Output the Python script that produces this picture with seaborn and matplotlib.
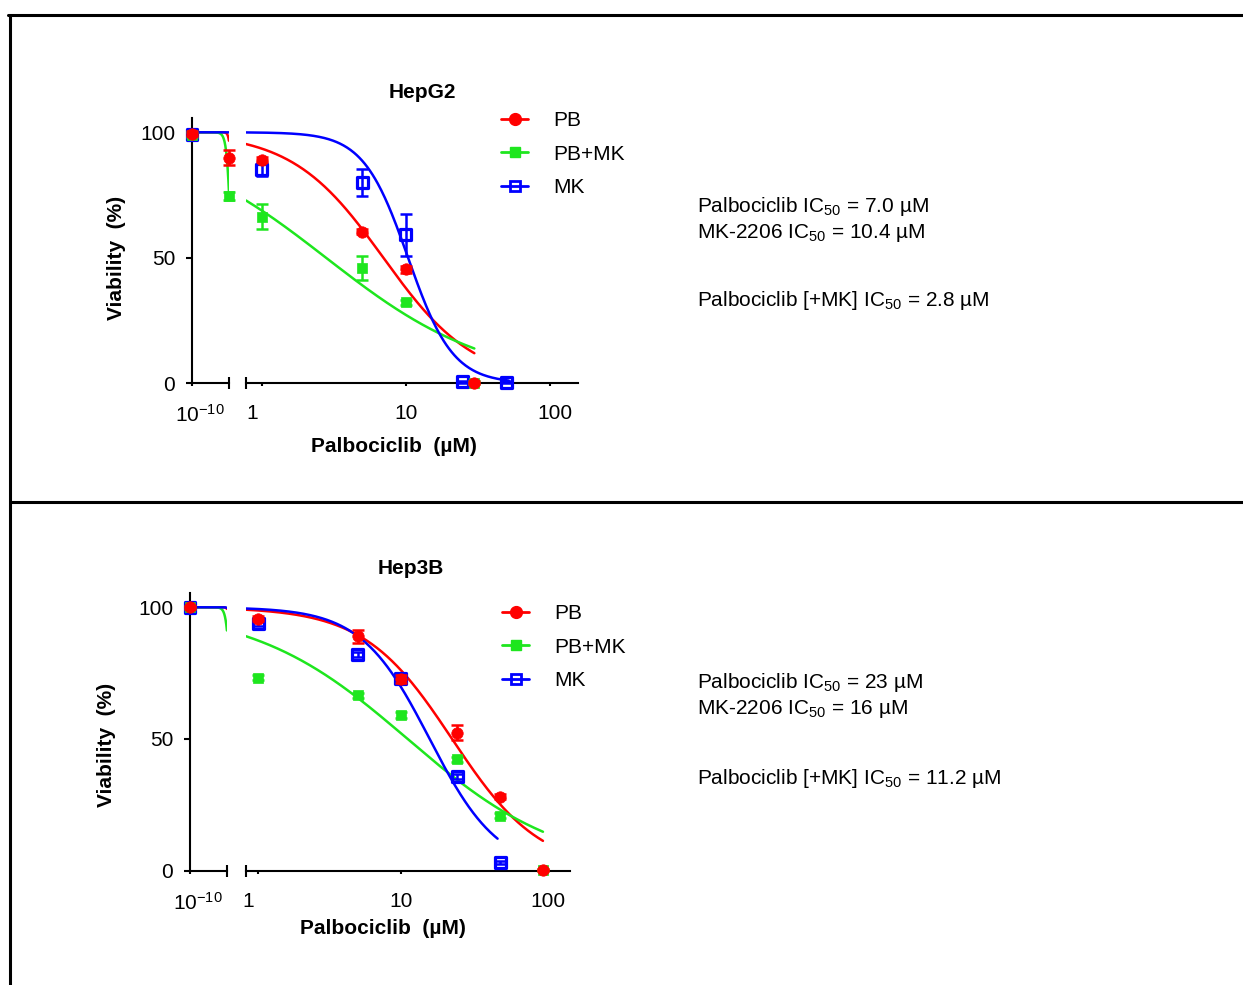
import numpy as np
import matplotlib
matplotlib.use('Agg')
import matplotlib.pyplot as plt
from matplotlib.lines import Line2D
from matplotlib.ticker import FixedLocator, FixedFormatter, NullLocator
import matplotlib.transforms as mtrans
import seaborn as sns

sns.set_style('ticks')
plt.rcParams['font.family'] = ['Liberation Sans', 'DejaVu Sans']
plt.rcParams['mathtext.fontset'] = 'custom'
plt.rcParams['mathtext.rm'] = 'Liberation Sans'
plt.rcParams['mathtext.it'] = 'Liberation Sans:italic'
plt.rcParams['mathtext.bf'] = 'Liberation Sans:bold'
for k in ['text.color', 'axes.labelcolor', 'xtick.color', 'ytick.color', 'axes.edgecolor']:
    plt.rcParams[k] = 'black'

# ---------------- data ----------------
series_names = ['PB', 'PB+MK', 'MK']
series_colors = ['#FF0000', '#1EE61E', '#0000FF']

# HepG2
hepg2_pb_dose = [1e-10, 0.5, 1, 5, 10, 30]
hepg2_pb_val = [99.5, 89.8, 89.0, 60.4, 45.4, 0.3]
hepg2_pb_err = [1.0, 3.0, 1.0, 1.0, 1.5, 0.5]
hepg2_pbmk_dose = [1e-10, 0.5, 1, 5, 10, 30]
hepg2_pbmk_val = [99.0, 74.6, 66.4, 45.8, 32.3, 0.3]
hepg2_pbmk_err = [1.0, 1.5, 5.0, 4.8, 1.0, 0.5]
hepg2_mk_dose = [1e-10, 1, 5, 10, 25, 50]
hepg2_mk_val = [99.0, 85.2, 79.9, 59.1, 0.6, 0.5]
hepg2_mk_err = [1.5, 2.5, 5.4, 8.5, 0.5, 0.5]
hepg2_ic50 = [7.0, 2.8, 10.4]
hepg2_hill = [1.37, 0.77, 2.8]
hepg2_curve_end = [30, 30, 52]

# Hep3B
hep3b_pb_dose = [1e-10, 1, 5, 10, 25, 50, 100]
hep3b_pb_val = [100.0, 95.6, 89.0, 72.7, 52.4, 28.1, 0.2]
hep3b_pb_err = [0.5, 1.0, 2.5, 1.5, 2.8, 1.0, 0.5]
hep3b_pbmk_dose = [1e-10, 1, 5, 10, 25, 50, 100]
hep3b_pbmk_val = [100.0, 73.3, 66.6, 59.1, 42.3, 20.9, 0.2]
hep3b_pbmk_err = [0.5, 0.8, 1.0, 1.0, 1.0, 1.0, 0.5]
hep3b_mk_dose = [1e-10, 1, 5, 10, 25, 50]
hep3b_mk_val = [100.0, 93.7, 82.0, 73.0, 35.7, 3.0]
hep3b_mk_err = [0.5, 1.0, 1.0, 1.5, 1.0, 0.5]
hep3b_ic50 = [23.0, 11.2, 16.0]
hep3b_hill = [1.4, 0.8, 1.8]
hep3b_curve_end = [100, 100, 48]

hepg2_text = ['Palbociclib IC$_{50}$ = 7.0 µM', 'MK-2206 IC$_{50}$ = 10.4 µM',
              'Palbociclib [+MK] IC$_{50}$ = 2.8 µM']
hep3b_text = ['Palbociclib IC$_{50}$ = 23 µM', 'MK-2206 IC$_{50}$ = 16 µM',
              'Palbociclib [+MK] IC$_{50}$ = 11.2 µM']

y_ticks = [0, 50, 100]
x_ticks_right = [1, 10, 100]
x_labels_right = ['1', '10', '100']
x_tick_left = [1e-10]
x_label_left = ['10$^{-10}$']

# ---------------- figure ----------------
W, H = 1243, 985
fig = plt.figure(figsize=(W / 100, H / 100), dpi=100)
FS = 15


def add_px_axes(x0, x1, ytop, ybot):
    return fig.add_axes([x0 / W, 1 - ybot / H, (x1 - x0) / W, (ybot - ytop) / H])


def hill(x, ic50, h):
    return 100.0 / (1.0 + (x / ic50) ** h)


def offset_label(tick, dx_px):
    tr = mtrans.ScaledTranslation(dx_px / 100.0, 0, fig.dpi_scale_trans)
    tick.label1.set_transform(tick.label1.get_transform() + tr)


def panel(geom, data, ic50s, hills, ends, title, title_pos, xlab_pos, ylab_pos,
          legend_pos, texts, text_x, text_ys):
    ytop, ybot, xl0, xl1, xr0, xr1, rlo, rhi, ymax = geom
    axL = add_px_axes(xl0, xl1, ytop, ybot)
    axR = add_px_axes(xr0, xr1, ytop, ybot)
    lmin, lmax = 1e-10, 10 ** -0.2
    for ax in (axL, axR):
        ax.set_xscale('log')
        ax.set_ylim(0, ymax)
        ax.set_facecolor('none')
        for s in ax.spines.values():
            s.set_linewidth(1.5)
            s.set_color('black')
        ax.spines['top'].set_visible(False)
        ax.spines['right'].set_visible(False)
    axL.set_xlim(lmin, lmax)
    axR.set_xlim(10 ** rlo, 10 ** rhi)
    axR.spines['left'].set_visible(False)
    axR.yaxis.set_major_locator(NullLocator())
    axR.yaxis.set_minor_locator(NullLocator())

    axL.yaxis.set_major_locator(FixedLocator(y_ticks))
    axL.yaxis.set_minor_locator(NullLocator())
    axL.tick_params(axis='y', direction='out', length=4, width=1.5, labelsize=FS, pad=8)

    axL.xaxis.set_major_locator(FixedLocator(x_tick_left))
    axL.xaxis.set_major_formatter(FixedFormatter(x_label_left))
    axL.xaxis.set_minor_locator(FixedLocator([lmax]))
    axR.xaxis.set_major_locator(FixedLocator(x_ticks_right))
    axR.xaxis.set_major_formatter(FixedFormatter(x_labels_right))
    axR.xaxis.set_minor_locator(FixedLocator([10 ** rlo]))
    for ax in (axL, axR):
        ax.tick_params(axis='x', which='major', direction='out', length=2.5, width=1.5,
                       labelsize=FS, pad=12.5)
        ax.tick_params(axis='x', which='minor', direction='inout', length=8, width=1.5)

    # curves
    for i, (name, col) in enumerate(zip(series_names, series_colors)):
        xl = np.logspace(-10, -0.22, 400)
        sns.lineplot(x=xl, y=hill(xl, ic50s[i], hills[i]), ax=axL, color=col, lw=1.8,
                     estimator=None, sort=False, legend=False)
        xr = np.logspace(rlo, np.log10(ends[i]), 300)
        sns.lineplot(x=xr, y=hill(xr, ic50s[i], hills[i]), ax=axR, color=col, lw=1.8,
                     estimator=None, sort=False, legend=False)

    # points: blue first, then green, then red on top
    order = [2, 1, 0]
    markers = ['o', 's', 's']
    sizes = [68, 58, 62]
    for z, i in enumerate(order):
        dose, val, err = data[i]
        dose = np.asarray(dose, float)
        val = np.asarray(val, float)
        err = np.asarray(err, float)
        col = series_colors[i]
        for ax, m in ((axL, dose < 0.7), (axR, dose >= 0.7)):
            if not m.any():
                continue
            eb = ax.errorbar(dose[m], val[m], yerr=err[m], fmt='none', ecolor=col,
                             elinewidth=1.8, capsize=4, capthick=1.8, zorder=3 + z)
            for a in eb.lines[1] + eb.lines[2]:
                a.set_clip_on(False)
            if i == 2:
                sns.scatterplot(x=dose[m], y=val[m], ax=ax, marker='s', s=sizes[i],
                                color=col, facecolor='none', edgecolor=col, linewidth=2.3,
                                clip_on=False, zorder=3.5 + z, legend=False)
            else:
                sns.scatterplot(x=dose[m], y=val[m], ax=ax, marker=markers[i], s=sizes[i],
                                color=col, edgecolor=col, linewidth=0.5,
                                clip_on=False, zorder=3.5 + z, legend=False)

    # legend
    handles = []
    for i, col in enumerate(series_colors):
        if i == 2:
            h = Line2D([0], [0], color=col, lw=2, marker='s', markersize=7.5,
                       markerfacecolor='none', markeredgecolor=col, markeredgewidth=2)
        else:
            h = Line2D([0], [0], color=col, lw=2, marker=markers[i],
                       markersize=8.5 if i == 0 else 7.5, markerfacecolor=col,
                       markeredgecolor=col)
        handles.append(h)
    axR.legend(handles, series_names, loc='upper left',
               bbox_to_anchor=(legend_pos[0] / W, 1 - legend_pos[1] / H),
               bbox_transform=fig.transFigure, frameon=False, fontsize=FS,
               handlelength=1.3, handletextpad=1.2, labelspacing=0.7,
               borderpad=0, borderaxespad=0, numpoints=1)

    fig.text(title_pos[0] / W, 1 - title_pos[1] / H, title, ha='center', va='center',
             fontsize=FS, fontweight='bold')
    fig.text(xlab_pos[0] / W, 1 - xlab_pos[1] / H, 'Palbociclib  (µM)', ha='center',
             va='center', fontsize=FS, fontweight='bold')
    fig.text(ylab_pos[0] / W, 1 - ylab_pos[1] / H, 'Viability  (%)', ha='center',
             va='center', rotation=90, fontsize=FS, fontweight='bold')
    for t, yy in zip(texts, text_ys):
        fig.text(text_x / W, 1 - (yy + 7.5) / H, t, ha='left', va='baseline', fontsize=FS)
    return axL, axR


top = panel((118.2, 383.3, 192, 229, 246, 578, -0.109, 2.197, 105.6),
            [(hepg2_pb_dose, hepg2_pb_val, hepg2_pb_err),
             (hepg2_pbmk_dose, hepg2_pbmk_val, hepg2_pbmk_err),
             (hepg2_mk_dose, hepg2_mk_val, hepg2_mk_err)],
            hepg2_ic50, hepg2_hill, hepg2_curve_end, 'HepG2', (422, 92), (394, 446),
            (117, 258), (501, 111), hepg2_text, 697, [205, 231, 299])
bot = panel((593.3, 870.7, 190, 227, 246, 570, -0.086, 2.190, 105.3),
            [(hep3b_pb_dose, hep3b_pb_val, hep3b_pb_err),
             (hep3b_pbmk_dose, hep3b_pbmk_val, hep3b_pbmk_err),
             (hep3b_mk_dose, hep3b_mk_val, hep3b_mk_err)],
            hep3b_ic50, hep3b_hill, hep3b_curve_end, 'Hep3B', (411, 568), (383, 928),
            (107, 745), (502, 604), hep3b_text, 697, [681, 707, 776])

# frame lines
for (x0, y0, x1, y1) in [(8, 15, W, 15), (10, 15, 10, H), (10, 502, W, 502)]:
    fig.add_artist(Line2D([x0 / W, x1 / W], [1 - y0 / H, 1 - y1 / H],
                          transform=fig.transFigure, color='black', lw=2.2))

fig.canvas.draw()
for axL, axR in (top, bot):
    for t in axL.xaxis.get_major_ticks():
        offset_label(t, 8)
    ticks = axR.xaxis.get_major_ticks()
    offset_label(ticks[0], -10)
    offset_label(ticks[2], 5)

fig.savefig('out.png', dpi=100, facecolor='white')
